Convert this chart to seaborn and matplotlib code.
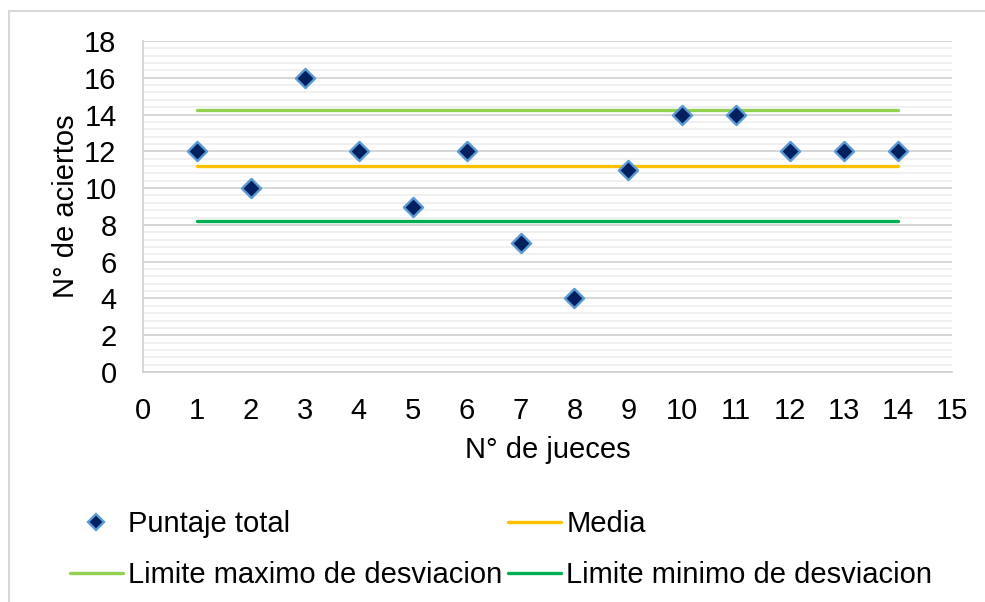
import matplotlib
matplotlib.use("Agg")
import matplotlib.pyplot as plt
from matplotlib.lines import Line2D
from matplotlib.ticker import MultipleLocator
import seaborn as sns
import pandas as pd

# Scores per judge
jueces = [1, 2, 3, 4, 5, 6, 7, 8, 9, 10, 11, 12, 13, 14]
puntaje_total = [12, 10, 16, 12, 9, 12, 7, 4, 11, 14, 14, 12, 12, 12]

# Reference lines (mean and +/- one standard deviation)
media = 11.21
limite_maximo = 14.23
limite_minimo = 8.20

x_ticks = list(range(0, 16))
y_ticks = list(range(0, 19, 2))

sns.set_style("white")
plt.rcParams["font.family"] = ["Liberation Sans", "DejaVu Sans"]
plt.rcParams["text.color"] = "black"
plt.rcParams["axes.labelcolor"] = "black"

FS = 21

fig = plt.figure(figsize=(9.85, 6.02), dpi=100)
ax = fig.add_axes([143 / 985, 1 - 372 / 602, (952 - 143) / 985, (372 - 41) / 602])

df_pts = pd.DataFrame({"juez": jueces, "puntaje": puntaje_total})
lines = pd.DataFrame({
    "juez": jueces * 3,
    "valor": [media] * len(jueces) + [limite_maximo] * len(jueces) + [limite_minimo] * len(jueces),
    "serie": ["Media"] * len(jueces) + ["Limite maximo de desviacion"] * len(jueces)
             + ["Limite minimo de desviacion"] * len(jueces),
})
palette = {
    "Media": "#FFC000",
    "Limite maximo de desviacion": "#92D050",
    "Limite minimo de desviacion": "#00B050",
}

sns.lineplot(data=lines, x="juez", y="valor", hue="serie", palette=palette,
             linewidth=2.4, ax=ax, legend=False, zorder=3,
             solid_capstyle="round")
sns.scatterplot(data=df_pts, x="juez", y="puntaje", marker="D", s=95,
                color="#002060", edgecolor="#5B9BD5", linewidth=1.7,
                ax=ax, zorder=4, legend=False)

ax.set_xlim(0, 15)
ax.set_ylim(0, 18)
ax.set_xticks(x_ticks)
ax.set_yticks(y_ticks)
ax.yaxis.set_minor_locator(MultipleLocator(0.4))
ax.grid(axis="y", which="major", color="#D0D0D0", linewidth=1.2, zorder=0)
ax.grid(axis="y", which="minor", color="#EDEDED", linewidth=1.2, zorder=0)
ax.grid(axis="x", visible=False)
ax.set_axisbelow(True)
for side in ("top", "right"):
    ax.spines[side].set_visible(False)
for side in ("left", "bottom"):
    ax.spines[side].set_color("#D0D0D0")
    ax.spines[side].set_linewidth(1.2)
ax.tick_params(axis="both", which="both", length=0, labelsize=FS, colors="black")
ax.tick_params(axis="y", pad=19)
ax.tick_params(axis="x", pad=18)
ax.set_xlabel("N° de jueces", fontsize=FS, labelpad=8)
ax.set_ylabel("N° de aciertos", fontsize=FS, labelpad=3)

handles = [
    Line2D([], [], linestyle="none", marker="D", markersize=8.5,
           markerfacecolor="#002060", markeredgecolor="#5B9BD5", markeredgewidth=1.7),
    Line2D([], [], color="#92D050", linewidth=2.4),
    Line2D([], [], color="#FFC000", linewidth=2.4),
    Line2D([], [], color="#00B050", linewidth=2.4),
]
labels = ["Puntaje total", "Limite maximo de desviacion", "Media", "Limite minimo de desviacion"]
fig.legend(handles, labels, ncol=2, loc="upper left",
           bbox_to_anchor=(70 / 985, 1 - 510 / 602), frameon=False,
           fontsize=FS, handlelength=1.8, handletextpad=0.18,
           columnspacing=0.22, labelspacing=0.78, borderpad=0, borderaxespad=0)

# Light outer frame of the chart area
fig.add_artist(Line2D([9 / 985, 9 / 985], [0, 1 - 11 / 602], color="#D9D9D9", linewidth=1.5))
fig.add_artist(Line2D([9 / 985, 1], [1 - 11 / 602, 1 - 11 / 602], color="#D9D9D9", linewidth=1.5))

fig.savefig("out.png", dpi=100)
